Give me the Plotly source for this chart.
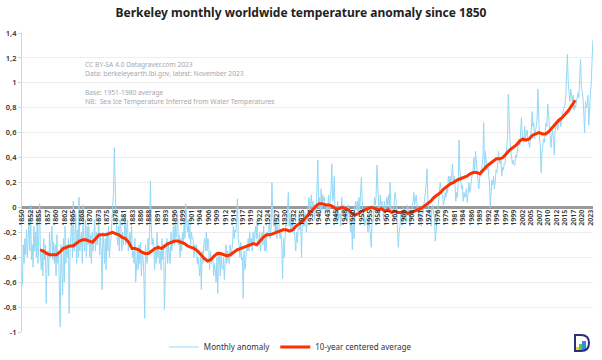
import plotly.graph_objects as go

# Quarterly samples of the monthly anomaly (°C vs 1951-1980), 1850 Q1 .. 2023 Q4
quarterly_anomaly = [
    # 1850s
    -0.62, -0.30, -0.45, -0.25,  -0.38, -0.18, -0.40, -0.22,  -0.10, -0.35, 0.02, -0.42,
    -0.30, -0.48, -0.15, -0.35,  -0.20, -0.40, -0.05, -0.45,  -0.25, 0.03, -0.38, -0.50,
    -0.35, -0.55, -0.25, -0.42,  -0.30, -0.77, -0.45, -0.35,  -0.55, -0.20, -0.40, -0.30,
    -0.15, -0.42, -0.28, -0.45,
    # 1860s
    -0.30, -0.55, -0.22, -0.45,  -0.35, -0.62, -0.96, -0.30,  -0.50, -0.70, -0.25, -0.60,
    -0.15, -0.45, -0.30, -0.40,  -0.25, -0.85, -0.35, -0.20,  -0.10, -0.40, 0.05, -0.35,
    -0.30, -0.05, -0.45, -0.18,  -0.40, 0.08, -0.35, -0.25,  -0.20, -0.45, 0.02, -0.30,
    -0.35, -0.10, -0.40, -0.15,
    # 1870s
    -0.30, -0.15, -0.40, -0.22,  -0.45, -0.20, -0.35, -0.28,  -0.10, -0.35, -0.20, -0.30,
    -0.25, -0.05, -0.38, -0.22,  -0.35, -0.66, -0.20, -0.30,  -0.45, -0.25, -0.50, -0.20,
    -0.35, -0.15, -0.40, -0.30,  -0.25, -0.10, 0.05, 0.12,  0.48, 0.10, -0.05, -0.20,
    -0.30, -0.15, -0.35, -0.10,
    # 1880s
    -0.15, -0.35, -0.20, -0.30,  -0.25, -0.05, -0.30, -0.18,  -0.10, -0.35, -0.25, -0.20,
    -0.30, -0.15, -0.40, -0.35,  -0.45, -0.25, -0.60, -0.40,  -0.35, -0.50, -0.30, -0.45,
    -0.28, -0.55, -0.35, -0.40,  -0.55, -0.89, -0.30, -0.40,  -0.45, -0.25, -0.35, -0.20,
    0.21, -0.15, -0.30, -0.25,
    # 1890s
    -0.30, -0.50, -0.35, -0.45,  -0.20, -0.40, -0.30, -0.45,  -0.35, -0.50, -0.25, -0.42,
    -0.30, -0.82, -0.40, -0.35,  -0.25, -0.45, -0.30, -0.40,  -0.45, -0.20, -0.35, -0.28,
    -0.15, -0.30, -0.10, -0.25,  -0.20, -0.05, -0.30, -0.22,  -0.40, -0.25, -0.35, -0.20,
    -0.30, -0.10, -0.25, 0.03,
    # 1900s
    -0.05, -0.20, -0.10, -0.25,  -0.15, -0.30, -0.20, -0.25,  -0.25, -0.40, -0.30, -0.35,
    -0.30, -0.45, -0.40, -0.50,  -0.55, -0.40, -0.66, -0.35,  -0.45, -0.30, -0.25, -0.35,
    -0.20, -0.35, -0.25, -0.30,  -0.50, -0.35, -0.45, -0.40,  -0.40, -0.55, -0.45, -0.50,
    -0.60, -0.40, -0.69, -0.35,
    # 1910s
    -0.40, -0.55, -0.38, -0.48,  -0.50, -0.40, -0.58, -0.45,  -0.30, -0.45, -0.35, -0.40,
    -0.45, -0.30, -0.40, -0.35,  -0.30, -0.15, -0.25, -0.18,  -0.20, -0.10, 0.07, -0.25,
    -0.30, -0.40, -0.28, -0.42,  -0.40, -0.73, -0.35, -0.50,  -0.45, -0.30, -0.35, -0.25,
    -0.35, -0.20, -0.30, -0.25,
    # 1920s
    -0.35, -0.20, -0.30, -0.22,  -0.15, -0.25, -0.10, -0.28,  -0.30, -0.20, -0.35, -0.25,
    -0.20, -0.30, -0.15, -0.35,  -0.25, -0.35, -0.20, -0.22,  -0.20, -0.10, -0.25, -0.15,
    0.20, -0.05, -0.15, -0.08,  -0.20, -0.10, -0.25, -0.15,  -0.05, -0.20, -0.25, -0.20,
    -0.30, -0.57, -0.25, -0.40,
    # 1930s
    -0.20, -0.10, -0.15, -0.05,  0.12, -0.15, -0.05, -0.18,  -0.05, -0.20, -0.10, -0.15,
    -0.25, -0.35, -0.20, -0.28,  -0.15, -0.05, -0.18, -0.10,  -0.40, -0.10, -0.15, -0.05,
    -0.15, -0.05, -0.20, -0.08,  -0.05, 0.08, -0.02, 0.05,  0.10, -0.05, 0.05, -0.02,
    -0.10, 0.02, -0.05, 0.20,
    # 1940s
    0.38, 0.00, 0.08, -0.05,  0.15, -0.02, 0.10, 0.05,  0.08, -0.05, 0.02, 0.03,
    -0.05, 0.10, -0.02, 0.05,  0.15, 0.35, 0.05, 0.10,  0.25, -0.10, 0.00, -0.12,
    0.05, -0.10, -0.08, -0.05,  -0.15, 0.08, -0.02, -0.05,  0.02, -0.10, -0.05, -0.08,
    -0.12, 0.02, -0.08, -0.10,
    # 1950s
    -0.20, -0.10, -0.34, -0.05,  -0.25, 0.00, 0.05, -0.02,  0.05, -0.05, 0.08, -0.02,
    0.10, 0.24, 0.05, -0.05,  -0.05, -0.15, -0.12, -0.08,  -0.10, -0.20, -0.05, -0.15,
    -0.20, -0.32, -0.10, -0.12,  -0.05, 0.08, 0.02, 0.10,  0.34, 0.05, 0.02, -0.05,
    0.10, 0.02, 0.05, -0.02,
    # 1960s
    -0.10, 0.05, -0.05, 0.00,  0.08, 0.02, 0.10, 0.00,  0.20, -0.02, 0.00, -0.05,
    -0.05, 0.05, 0.12, 0.08,  -0.10, -0.15, -0.32, -0.20,  -0.15, -0.05, -0.12, -0.08,
    0.00, -0.10, -0.05, -0.08,  -0.12, 0.02, 0.00, -0.05,  -0.15, -0.02, -0.05, 0.02,
    0.05, 0.12, 0.02, 0.08,
    # 1970s
    0.10, 0.00, -0.02, -0.05,  -0.10, -0.05, -0.15, -0.02,  -0.05, 0.00, 0.05, 0.12,
    0.20, 0.31, 0.05, -0.05,  -0.10, -0.05, -0.15, 0.00,  0.02, -0.05, -0.08, -0.27,
    -0.20, -0.10, -0.05, 0.02,  0.12, 0.20, 0.15, 0.10,  0.10, 0.02, 0.05, 0.12,
    0.08, 0.15, 0.12, 0.25,
    # 1980s
    0.20, 0.25, 0.18, 0.28,  0.35, 0.20, 0.25, 0.18,  0.05, 0.12, 0.08, 0.20,
    0.54, 0.30, 0.22, 0.15,  0.18, 0.05, 0.12, 0.08,  0.10, 0.15, 0.04, 0.10,
    0.20, 0.12, 0.15, 0.22,  0.25, 0.30, 0.40, 0.28,  0.45, 0.35, 0.28, 0.22,
    0.15, 0.25, 0.30, 0.28,
    # 1990s
    0.35, 0.40, 0.68, 0.30,  0.45, 0.38, 0.30, 0.35,  0.25, 0.20, 0.00, 0.15,
    0.22, 0.18, 0.25, 0.15,  0.20, 0.30, 0.28, 0.35,  0.45, 0.38, 0.35, 0.40,
    0.25, 0.32, 0.30, 0.35,  0.35, 0.42, 0.50, 0.55,  0.91, 0.65, 0.55, 0.45,
    0.40, 0.35, 0.38, 0.34,
    # 2000s
    0.34, 0.42, 0.40, 0.45,  0.48, 0.55, 0.50, 0.58,  0.72, 0.58, 0.55, 0.52,
    0.65, 0.55, 0.60, 0.62,  0.55, 0.50, 0.48, 0.58,  0.62, 0.77, 0.65, 0.68,
    0.55, 0.60, 0.65, 0.70,  0.95, 0.62, 0.55, 0.50,  0.28, 0.45, 0.50, 0.55,
    0.52, 0.60, 0.68, 0.65,
    # 2010s
    0.83, 0.75, 0.65, 0.60,  0.48, 0.58, 0.62, 0.55,  0.42, 0.62, 0.65, 0.68,
    0.62, 0.65, 0.70, 0.72,  0.65, 0.72, 0.75, 0.78,  0.80, 0.82, 0.90, 1.05,
    1.23, 1.00, 0.88, 0.85,  0.95, 0.88, 0.85, 0.90,  0.78, 0.82, 0.80, 0.85,
    0.90, 0.92, 0.88, 1.00,
    # 2020s
    1.19, 0.98, 0.92, 0.88,  0.75, 0.60, 0.85, 0.80,  0.82, 0.90, 0.66, 0.85,
    0.90, 1.00, 1.15, 1.34,
]

# 10-year centered average, one value per year 1855..2018
avg_start_year = 1855
avg_values = [
    -0.34, -0.35, -0.37, -0.38, -0.38, -0.38, -0.36, -0.33, -0.32, -0.31,
    -0.31, -0.29, -0.27, -0.26, -0.26, -0.27, -0.28, -0.25, -0.22, -0.22,
    -0.22, -0.21, -0.20, -0.21, -0.22, -0.24, -0.25, -0.28, -0.33, -0.33,
    -0.34, -0.36, -0.37, -0.37, -0.35, -0.33, -0.32, -0.33, -0.31, -0.29,
    -0.28, -0.27, -0.27, -0.28, -0.29, -0.31, -0.32, -0.33, -0.35, -0.38,
    -0.41, -0.43, -0.42, -0.39, -0.37, -0.37, -0.38, -0.39, -0.38, -0.36,
    -0.34, -0.33, -0.32, -0.31, -0.30, -0.29, -0.30, -0.27, -0.24, -0.22,
    -0.22, -0.21, -0.20, -0.19, -0.18, -0.18, -0.19, -0.18, -0.15, -0.13,
    -0.11, -0.08, -0.05, -0.02, 0.01, 0.03, 0.03, 0.02, 0.02, 0.01,
    -0.01, -0.01, 0.00, -0.01, -0.02, -0.05, -0.06, -0.05, -0.03, -0.02,
    -0.01, 0.00, -0.01, -0.02, -0.01, -0.03, -0.02, -0.04, -0.03, -0.04,
    -0.04, -0.03, -0.05, -0.04, -0.03, -0.02, -0.01, 0.01, 0.03, 0.05,
    0.08, 0.10, 0.12, 0.15, 0.17, 0.19, 0.20, 0.22, 0.23, 0.24,
    0.25, 0.27, 0.28, 0.28, 0.27, 0.30, 0.33, 0.35, 0.37, 0.39,
    0.39, 0.40, 0.43, 0.46, 0.48, 0.50, 0.53, 0.55, 0.54, 0.55,
    0.58, 0.59, 0.60, 0.59, 0.59, 0.61, 0.64, 0.67, 0.70, 0.72,
    0.75, 0.78, 0.82, 0.86,
]

# x-axis labels: one every 31 months starting January 1850
tick_labels = [
    "1850", "1852", "1855", "1857", "1860", "1862", "1865", "1868", "1870", "1873",
    "1875", "1878", "1881", "1883", "1886", "1888", "1891", "1893", "1896", "1899",
    "1901", "1904", "1906", "1909", "1912", "1914", "1917", "1919", "1922", "1924",
    "1927", "1930", "1932", "1935", "1937", "1940", "1943", "1945", "1948", "1950",
    "1953", "1955", "1958", "1961", "1963", "1966", "1968", "1971", "1974", "1976",
    "1979", "1981", "1984", "1986", "1989", "1992", "1994", "1997", "1999", "2002",
    "2005", "2007", "2010", "2012", "2015", "2017", "2020", "2023",
]
tick_step_months = 31

y_tick_vals = [-1, -0.8, -0.6, -0.4, -0.2, 0, 0.2, 0.4, 0.6, 0.8, 1, 1.2, 1.4]
y_tick_text = ["-1", "-0,8", "-0,6", "-0,4", "-0,2", "0", "0,2", "0,4", "0,6", "0,8", "1", "1,2", "1,4"]

x_quarter = [1850 + (i + 0.5) / 4 for i in range(len(quarterly_anomaly))]
x_avg = [avg_start_year + i + 0.5 for i in range(len(avg_values))]
tick_vals = [1850 + k * tick_step_months / 12 for k in range(len(tick_labels))]

FONT = "Noto Sans"

fig = go.Figure()
fig.add_trace(go.Scatter(
    x=x_quarter, y=quarterly_anomaly, mode="lines", name="Monthly anomaly",
    line=dict(color="#94d8f6", width=1),
))
fig.add_trace(go.Scatter(
    x=x_avg, y=avg_values, mode="lines", name="10-year centered average",
    line=dict(color="#ff3000", width=3),
))

ymin, ymax = -1, 1.4
fig.update_layout(
    width=602, height=360,
    margin=dict(l=22, r=9, t=33, b=28, autoexpand=False),
    paper_bgcolor="white", plot_bgcolor="white",
    font=dict(family=FONT, color="#333"),
    title=dict(
        text="<b>Berkeley monthly worldwide temperature anomaly since 1850</b>",
        x=0.5, xanchor="center", y=1 - 13 / 360, yanchor="middle",
        font=dict(family=FONT, size=12, color="#222"),
    ),
    showlegend=True,
    legend=dict(
        orientation="h", x=0.47, xanchor="center",
        yref="container", y=1 - 347 / 360, yanchor="middle",
        font=dict(family=FONT, size=8, color="#333"),
        bgcolor="rgba(0,0,0,0)", itemwidth=30,
    ),
    xaxis=dict(
        range=[1850, 2023.92], anchor="free", position=(0 - ymin) / (ymax - ymin),
        showline=False, showgrid=False, zeroline=False,
        tickmode="array", tickvals=tick_vals, ticktext=tick_labels,
        tickangle=-90, ticks="", tickfont=dict(family=FONT, size=7, color="#333", weight=600),
        automargin=False,
    ),
    yaxis=dict(
        range=[ymin, ymax], tickmode="array", tickvals=y_tick_vals, ticktext=y_tick_text,
        showgrid=True, gridcolor="#ededed", gridwidth=1,
        zeroline=True, zerolinecolor="#9a9a9a", zerolinewidth=3,
        showline=True, linecolor="#d4d4d4", linewidth=1,
        ticks="outside", ticklen=3, tickcolor="#d4d4d4",
        tickfont=dict(family=FONT, size=7.5, color="#333", weight=600),
        automargin=False,
    ),
)

# source / notes text
note_color = "#a8a8a8"
fig.add_annotation(
    text="CC BY-SA 4.0 Datagraver.com 2023<br>Data: berkeleyearth.lbl.gov, latest: November 2023",
    xref="paper", yref="paper", x=(83 - 22) / 571, y=(332 - 58) / 299,
    xanchor="left", yanchor="top", align="left", showarrow=False,
    font=dict(family=FONT, size=6.7, color=note_color),
)
fig.add_annotation(
    text="Base: 1951-1980 average<br>NB:  Sea Ice Temperature Inferred from Water Temperatures",
    xref="paper", yref="paper", x=(83 - 22) / 571, y=(332 - 86) / 299,
    xanchor="left", yanchor="top", align="left", showarrow=False,
    font=dict(family=FONT, size=6.7, color=note_color),
)

# small logo (bottom right)
def px(xp):
    return (xp - 22) / 571

def py(yp):
    return (332 - yp) / 299

for x0, x1, y0, c in [(576, 579, 347, "#f4d21f"), (579, 582, 344, "#5fc24a"), (582, 586, 341, "#2f8fd8")]:
    fig.add_shape(type="rect", xref="paper", yref="paper",
                  x0=px(x0), x1=px(x1), y0=py(350), y1=py(y0),
                  fillcolor=c, line=dict(width=0))
path = (f"M {px(575)},{py(335)} L {px(581)},{py(335)} "
        f"Q {px(589)},{py(335)} {px(589)},{py(343)} "
        f"Q {px(589)},{py(351)} {px(581)},{py(351)} L {px(575)},{py(351)} Z")
fig.add_shape(type="path", path=path, xref="paper", yref="paper",
              line=dict(color="#2b2f80", width=2), fillcolor="rgba(0,0,0,0)")

fig.write_html("out.html", config={"displayModeBar": False},
               post_script="document.body.style.margin='0';")
